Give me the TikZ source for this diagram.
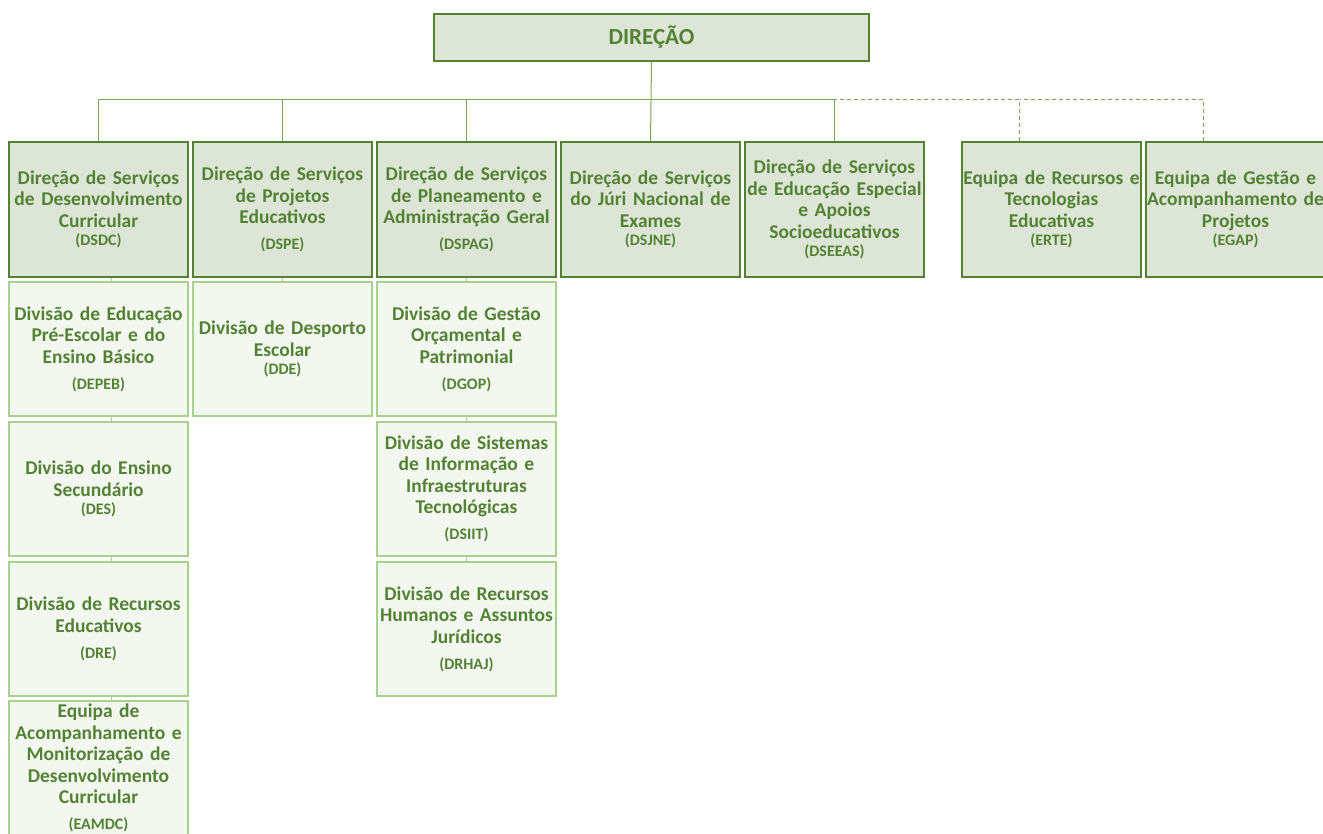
\documentclass[tikz,border=0pt]{standalone}
\usepackage{fontspec}
\setmainfont{Carlito}
\definecolor{dgreen}{HTML}{548235}
\definecolor{topfill}{HTML}{DDE5D6}
\definecolor{lowfill}{HTML}{F2F7EF}
\definecolor{lowline}{HTML}{A9D18E}
\definecolor{connc}{HTML}{76A853}
\newcommand{\abbr}{\fontsize{16}{21.5}\selectfont}
\newcommand{\imm}{\\[-3pt]}
\newcommand{\gp}{\\[4.5pt]}
\begin{document}
\begin{tikzpicture}[x=1pt,y=-1pt,
  topbox/.style={draw=dgreen, line width=2pt, fill=topfill, minimum height=135pt,
     text width=179pt, inner sep=0pt, align=center, text=dgreen,
     font=\bfseries\fontsize{19.5}{21.5}\selectfont},
  lowbox/.style={draw=lowline, line width=2pt, fill=lowfill, minimum height=134pt,
     text width=179pt, inner sep=0pt, align=center, text=dgreen,
     font=\bfseries\fontsize{19.5}{21.5}\selectfont},
  headbox/.style={draw=dgreen, line width=2pt, fill=topfill, minimum width=435pt,
     minimum height=47pt, inner sep=0pt, text=dgreen,
     font=\bfseries\fontsize{23}{26}\selectfont},
  conn/.style={draw=connc, line width=1pt},
  dashconn/.style={draw=connc, line width=1pt, dash pattern=on 4pt off 3pt},
  tick/.style={draw=lowline, line width=1pt}]
\useasboundingbox (0,0) rectangle (1323,834);
\clip (0,0) rectangle (1323,834);

\node[headbox] (dir) at (651.5,37.5) {DIREÇÃO};

% top row
\node[topbox] (dsdc) at (98.5,209.5) {Direção de Serviços\\de Desenvolvimento\\Curricular\imm{\abbr (DSDC)}};
\node[topbox] (dspe) at (282.5,209.5) {Direção de Serviços\\de Projetos\\Educativos\gp{\abbr (DSPE)}};
\node[topbox] (dspag) at (466.5,209.5) {Direção de Serviços\\de Planeamento e\\Administração Geral\gp{\abbr (DSPAG)}};
\node[topbox] (dsjne) at (650.5,209.5) {Direção de Serviços\\do Júri Nacional de\\Exames\imm{\abbr (DSJNE)}};
\node[topbox] (dseeas) at (834.5,209.5) {Direção de Serviços\\de Educação Especial\\e Apoios\\Socioeducativos\imm{\abbr (DSEEAS)}};
\node[topbox] (erte) at (1051.5,209.5) {Equipa de Recursos e\\Tecnologias\\Educativas\imm{\abbr (ERTE)}};
\node[topbox] (egap) at (1235.5,209.5) {Equipa de Gestão e\\Acompanhamento de\\Projetos\imm{\abbr (EGAP)}};

% lower boxes
\node[lowbox] (depeb) at (98.5,349) {Divisão de Educação\\Pré-Escolar e do\\Ensino Básico\gp{\abbr (DEPEB)}};
\node[lowbox] (des) at (98.5,489) {Divisão do Ensino\\Secundário\imm{\abbr (DES)}};
\node[lowbox] (dre) at (98.5,629) {Divisão de Recursos\\Educativos\gp{\abbr (DRE)}};
\node[lowbox] (eamdc) at (98.5,768) {Equipa de\\Acompanhamento e\\Monitorização de\\Desenvolvimento\\Curricular\gp{\abbr (EAMDC)}};
\node[lowbox] (dde) at (282.5,349) {Divisão de Desporto\\Escolar\imm{\abbr (DDE)}};
\node[lowbox] (dgop) at (466.5,349) {Divisão de Gestão\\Orçamental e\\Patrimonial\gp{\abbr (DGOP)}};
\node[lowbox] (dsiit) at (466.5,489) {Divisão de Sistemas\\de Informação e\\Infraestruturas\\Tecnológicas\gp{\abbr (DSIIT)}};
\node[lowbox] (drhaj) at (466.5,629) {Divisão de Recursos\\Humanos e Assuntos\\Jurídicos\gp{\abbr (DRHAJ)}};

% connectors
\coordinate (bus) at (651,100);
\draw[conn] (dir.south) -- (dsjne.north);
\draw[conn] (dsdc.north) |- (bus);
\draw[conn] (dspe.north) |- (bus);
\draw[conn] (dspag.north) |- (bus);
\draw[conn] (dseeas.north) |- (bus);
\draw[dashconn] ([xshift=-32pt]erte.north) |- (dseeas.north |- bus);
\draw[dashconn] ([xshift=-32pt]egap.north) |- ([xshift=-32pt]erte.north |- bus);

% short links between stacked boxes
\draw[tick] ([xshift=13pt]dsdc.south) -- ([xshift=13pt]depeb.north);
\draw[tick] ([xshift=13pt]depeb.south) -- ([xshift=13pt]des.north);
\draw[tick] ([xshift=13pt]des.south) -- ([xshift=13pt]dre.north);
\draw[tick] ([xshift=13pt]dre.south) -- ([xshift=13pt]eamdc.north);
\draw[tick] (dspe.south) -- (dde.north);
\draw[tick] (dspag.south) -- (dgop.north);
\draw[tick] (dgop.south) -- (dsiit.north);
\draw[tick] (dsiit.south) -- (drhaj.north);
\end{tikzpicture}
\end{document}
